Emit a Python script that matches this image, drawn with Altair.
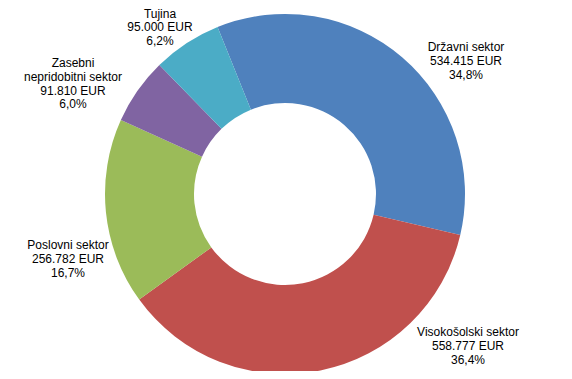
import altair as alt
import pandas as pd

# Data
categories = ["Državni sektor", "Visokošolski sektor", "Poslovni sektor",
              "Zasebni nepridobitni sektor", "Tujina"]
label_names = ["Državni sektor", "Visokošolski sektor", "Poslovni sektor",
               "Zasebni\nnepridobitni sektor", "Tujina"]
values = [534415, 558777, 256782, 91810, 95000]
colors = ["#4F81BD", "#C0504D", "#9BBB59", "#8064A2", "#4BACC6"]

# Layout (label first-line anchors in chart pixel coordinates)
label_x = [458, 460, 60, 65, 152]
label_y = [39, 324, 237, 55, 5.5]

total = sum(values)


def fmt_eur(v):
    return f"{v:,}".replace(",", ".") + " EUR"


def fmt_pct(v):
    return f"{v / total * 100:.1f}".replace(".", ",") + "%"


labels = [f"{n}\n{fmt_eur(v)}\n{fmt_pct(v)}" for n, v in zip(label_names, values)]

df = pd.DataFrame({
    "cat": categories,
    "value": values,
    "idx": list(range(len(categories))),
    "label": labels,
    "lx": label_x,
    "ly": label_y,
})

start = 2 * 3.141592653589793 - 0.384
theta_range = [start, start + 2 * 3.141592653589793]

cx, cy = 277, 186

arcs = alt.Chart(df).mark_arc(
    outerRadius=180, innerRadius=91
).encode(
    theta=alt.Theta("value:Q", stack=True, scale=alt.Scale(range=theta_range)),
    color=alt.Color("cat:N", scale=alt.Scale(domain=categories, range=colors), legend=None),
    order=alt.Order("idx:Q"),
    x=alt.value(cx),
    y=alt.value(cy),
)

texts = alt.Chart(df).mark_text(
    font="Liberation Sans", fontSize=12, lineBreak="\n", lineHeight=13.8,
    align="center", baseline="middle", color="black"
).encode(
    x=alt.X("lx:Q", scale=None),
    y=alt.Y("ly:Q", scale=None),
    text="label:N",
)

chart = alt.layer(arcs, texts).properties(
    width=556, height=363, padding=0, autosize=alt.AutoSizeParams(type="none")
).configure_view(stroke=None)

chart.save("out.html", embed_options={"renderer": "svg", "actions": False})
